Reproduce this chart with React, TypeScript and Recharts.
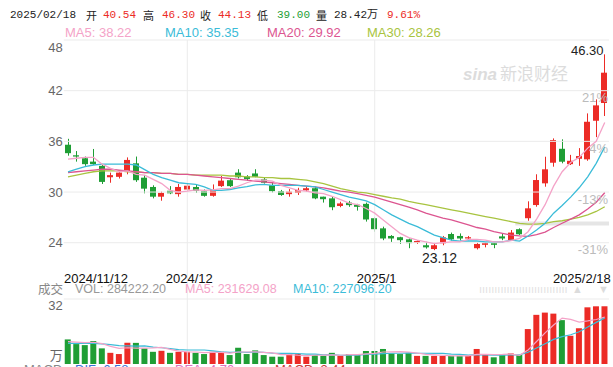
import React from 'react';
import {
  ComposedChart,
  Bar,
  Line,
  XAxis,
  YAxis,
  ReferenceLine,
  ReferenceArea,
  Cell,
} from 'recharts';

const dates = [
  '2024-11-12', '2024-11-13', '2024-11-14', '2024-11-15', '2024-11-18', '2024-11-19', '2024-11-20',
  '2024-11-21', '2024-11-22', '2024-11-25', '2024-11-26', '2024-11-27', '2024-11-28', '2024-11-29',
  '2024-12-02', '2024-12-03', '2024-12-04', '2024-12-05', '2024-12-06', '2024-12-09', '2024-12-10',
  '2024-12-11', '2024-12-12', '2024-12-13', '2024-12-16', '2024-12-17', '2024-12-18', '2024-12-19',
  '2024-12-20', '2024-12-23', '2024-12-24', '2024-12-25', '2024-12-26', '2024-12-27', '2024-12-30',
  '2024-12-31', '2025-01-02', '2025-01-03', '2025-01-06', '2025-01-07', '2025-01-08', '2025-01-09',
  '2025-01-10', '2025-01-13', '2025-01-14', '2025-01-15', '2025-01-16', '2025-01-17', '2025-01-20',
  '2025-01-21', '2025-01-22', '2025-01-23', '2025-01-24', '2025-01-27', '2025-02-05', '2025-02-06',
  '2025-02-07', '2025-02-10', '2025-02-11', '2025-02-12', '2025-02-13', '2025-02-14', '2025-02-17',
  '2025-02-18',
];

const opens = [
  35.6, 34.35, 34.0, 33.6, 33.1, 31.75, 31.8, 32.4, 33.4, 31.7,
  30.6, 29.45, 30.15, 29.75, 30.3, 30.6, 30.1, 29.55, 30.7, 31.4,
  32.3, 31.85, 32.2, 31.5, 30.8, 30.1, 29.75, 29.9, 30.2, 30.45,
  29.45, 29.25, 28.35, 28.75, 28.5, 28.6, 26.9, 25.7, 24.8, 24.65,
  24.4, 24.0, 23.7, 23.25, 23.93, 25.03, 24.8, 24.5, 23.35, 23.75,
  23.95, 24.75, 24.3, 25.6, 26.9, 28.46, 31.03, 33.47, 35.12, 33.3,
  33.94, 33.87, 38.44, 40.54,
];
const highs = [
  36.3, 34.85, 34.2, 35.1, 33.3, 32.3, 32.5, 34.1, 34.2, 32.0,
  30.8, 30.05, 30.7, 30.95, 31.0, 30.9, 30.3, 30.9, 31.9, 31.6,
  32.7, 32.0, 32.7, 31.75, 31.1, 30.25, 30.35, 30.5, 30.65, 30.65,
  29.45, 29.45, 28.85, 28.95, 28.6, 28.75, 27.0, 25.9, 24.9, 24.7,
  24.5, 24.3, 24.1, 24.0, 24.8, 25.2, 25.1, 24.8, 24.0, 24.0,
  24.0, 25.05, 25.5, 25.7, 28.9, 32.1, 34.18, 36.35, 36.24, 34.4,
  35.2, 39.31, 40.97, 46.3,
];
const lows = [
  34.3, 33.6, 33.1, 33.2, 30.95, 31.1, 31.6, 32.1, 31.2, 29.85,
  29.25, 28.97, 29.75, 29.45, 30.15, 29.9, 29.45, 29.45, 30.6, 30.6,
  31.6, 31.35, 31.75, 31.0, 29.95, 29.55, 29.45, 29.65, 30.05, 29.15,
  28.75, 27.85, 28.2, 28.25, 27.8, 26.5, 25.3, 24.3, 24.1, 23.85,
  23.35, 23.85, 23.3, 23.12, 23.7, 24.25, 24.3, 24.3, 23.2, 23.45,
  23.35, 24.3, 24.25, 24.9, 26.6, 28.26, 30.63, 33.0, 33.4, 33.2,
  33.1, 33.7, 36.5, 39.0,
];
const closes = [
  34.6, 34.2, 33.3, 33.3, 31.2, 32.0, 32.3, 33.8, 31.4, 30.4,
  29.45, 29.9, 29.85, 30.6, 30.75, 30.15, 29.55, 30.25, 31.35, 30.7,
  31.75, 31.55, 31.8, 31.1, 30.1, 29.65, 30.05, 30.25, 30.45, 29.25,
  29.15, 28.2, 28.65, 28.45, 28.25, 26.75, 25.6, 24.5, 24.5, 24.3,
  23.95, 24.2, 23.45, 23.7, 24.64, 24.4, 24.5, 24.65, 23.85, 23.95,
  23.75, 24.5, 25.2, 25.0, 28.07, 31.42, 32.69, 36.15, 33.59, 33.7,
  34.26, 38.32, 40.26, 44.13,
];

const ma5 = [
  33.9, 34.0, 34.1, 34.1, 33.3, 32.8, 32.4, 32.5, 32.1, 32.0,
  31.5, 31.0, 30.2, 30.0, 30.1, 30.25, 30.2, 30.25, 30.4, 30.4,
  30.7, 31.1, 31.4, 31.4, 31.3, 30.8, 30.5, 30.2, 30.1, 29.9,
  29.8, 29.5, 29.1, 28.7, 28.5, 28.05, 27.5, 26.7, 25.9, 25.1,
  24.6, 24.3, 24.1, 23.9, 24.0, 24.1, 24.1, 24.4, 24.4, 24.3,
  24.1, 24.1, 24.25, 24.5, 25.3, 26.8, 28.5, 30.7, 32.4, 33.5,
  34.1, 35.2, 36.0, 38.22,
];
const ma10 = [
  32.4, 32.7, 33.0, 33.2, 33.3, 33.3, 33.3, 33.3, 33.2, 32.65,
  32.1, 31.7, 31.4, 31.1, 31.0, 30.9, 30.6, 30.2, 30.2, 30.3,
  30.5, 30.65, 30.85, 30.9, 30.8, 30.8, 30.8, 30.8, 30.7, 30.6,
  30.3, 30.0, 29.7, 29.4, 29.2, 28.95, 28.5, 27.9, 27.3, 26.8,
  26.3, 25.9, 25.4, 24.9, 24.6, 24.3, 24.2, 24.2, 24.2, 24.1,
  24.1, 24.1, 24.3, 24.2, 24.8, 25.5, 26.3, 27.5, 28.4, 29.4,
  30.5, 31.8, 33.4, 35.35,
];
const ma20 = [
  32.3, 32.4, 32.5, 32.6, 32.7, 32.7, 32.6, 32.5, 32.4, 32.3,
  32.3, 32.2, 32.2, 32.1, 32.1, 32.0, 31.9, 31.8, 31.7, 31.6,
  31.5, 31.4, 31.3, 31.2, 31.1, 31.0, 30.9, 30.8, 30.7, 30.6,
  30.5, 30.3, 30.1, 30.0, 29.8, 29.6, 29.4, 29.1, 28.8, 28.5,
  28.2, 27.9, 27.5, 27.2, 26.9, 26.7, 26.4, 26.1, 25.8, 25.6,
  25.3, 25.1, 24.9, 24.8, 24.75, 24.95, 25.25, 25.8, 26.3, 26.8,
  27.3, 28.0, 28.8, 29.92,
];
const ma30 = [
  31.8, 32.0, 32.2, 32.4, 32.5, 32.5, 32.5, 32.4, 32.4, 32.3,
  32.3, 32.2, 32.2, 32.1, 32.1, 32.0, 32.0, 32.0, 32.0, 31.9,
  31.9, 31.8, 31.8, 31.7, 31.7, 31.6, 31.6, 31.5, 31.4, 31.2,
  31.0, 30.7, 30.4, 30.2, 30.0, 29.9, 29.7, 29.5, 29.3, 29.15,
  28.9, 28.7, 28.5, 28.3, 28.1, 27.9, 27.7, 27.5, 27.3, 27.1,
  26.9, 26.7, 26.5, 26.3, 26.2, 26.2, 26.3, 26.5, 26.6, 26.8,
  27.0, 27.3, 27.7, 28.26,
];

// volume in 万
const volumes = [
  12.1, 9.8, 9.3, 11.3, 7.7, 5.5, 4.9, 10.5, 10.4, 7.7,
  6.0, 6.5, 5.5, 6.0, 6.0, 5.5, 4.9, 6.0, 6.0, 4.4,
  8.0, 4.9, 6.7, 4.4, 3.6, 3.6, 4.9, 4.9, 3.6, 4.4,
  4.0, 5.5, 4.0, 4.9, 4.4, 6.4, 6.4, 7.4, 5.2, 4.9,
  5.5, 4.0, 4.0, 4.0, 4.0, 4.0, 4.0, 4.0, 7.4, 4.4,
  3.3, 4.4, 5.2, 4.4, 17.2, 24.2, 25.3, 24.8, 21.6, 13.9,
  17.6, 27.9, 28.4, 28.42,
];
const volMa5 = [
  11.0, 10.8, 10.5, 10.7, 10.0, 8.7, 7.7, 8.0, 7.8, 7.8,
  7.9, 8.2, 7.2, 6.3, 6.0, 5.9, 5.6, 5.7, 5.7, 5.4,
  5.9, 5.9, 6.0, 5.7, 5.5, 4.6, 4.6, 4.3, 4.1, 4.3,
  4.4, 4.5, 4.3, 4.6, 4.6, 5.0, 5.2, 5.9, 6.0, 6.1,
  5.9, 5.4, 4.7, 4.5, 4.3, 4.0, 4.0, 4.0, 4.7, 4.8,
  4.6, 4.7, 4.9, 4.3, 6.9, 11.1, 15.3, 19.2, 22.6, 22.0,
  20.6, 21.2, 21.9, 23.16,
];
const volMa10 = [
  10.2, 10.2, 10.1, 10.2, 9.9, 9.5, 9.0, 8.9, 8.8, 8.9,
  8.3, 8.0, 7.6, 7.1, 6.9, 6.9, 6.9, 6.45, 6.0, 5.7,
  5.9, 5.7, 5.8, 5.7, 5.4, 5.25, 5.25, 5.1, 4.9, 4.9,
  4.5, 4.6, 4.3, 4.3, 4.4, 4.7, 4.85, 5.1, 5.3, 5.3,
  5.5, 5.3, 5.3, 5.2, 5.2, 4.9, 4.7, 4.4, 4.6, 4.5,
  4.3, 4.35, 4.5, 4.5, 5.8, 7.85, 10.0, 12.1, 13.5, 14.4,
  15.9, 18.2, 20.5, 22.71,
];

const priceTicks = [48, 42, 36, 30, 24];
const pctTicks = [42, 36, 30, 24];
const pctLabels = ['21%', '4%', '-13%', '-31%'];
const volTicks = [32, 4];
const volTickLabels = ['32', '万'];
const dateTicks = ['2024-11-12', '2024-12-02', '2025-01-02', '2025-02-18'];
const dateTickLabels = ['2024/11/12', '2024/12', '2025/1', '2025/2/18'];
const gridDates = ['2024-12-02', '2025-01-02'];

const RED = '#ec2b26';
const GREEN = '#1f9e35';
const C_MA5 = '#f4a3c8';
const C_MA10 = '#3bbcd8';
const C_MA20 = '#dc5590';
const C_MA30 = '#a8c440';
const GRID = '#ebebeb';

const SANS = '"Liberation Sans", Arial, sans-serif';
const MONO = '"Liberation Mono", "Noto Sans CJK SC", monospace';
const CJK = '"Noto Sans CJK SC", sans-serif';

const data = dates.map((date, i) => ({
  date,
  open: opens[i],
  high: highs[i],
  low: lows[i],
  close: closes[i],
  ma5: ma5[i],
  ma10: ma10[i],
  ma20: ma20[i],
  ma30: ma30[i],
  vol: volumes[i],
  vma5: volMa5[i],
  vma10: volMa10[i],
}));

const maxHigh = Math.max(...highs);
const minLow = Math.min(...lows);

function Candle(props: any) {
  const { x, y, width, height, payload } = props;
  if (!payload) return null;
  const { open, close, high, low } = payload;
  const top = Math.min(y, y + height);
  const h = Math.abs(height);
  const k = h / (high - low);
  const py = (v: number) => top + (high - v) * k;
  const color = close >= open ? RED : GREEN;
  const cx = Math.round(x + width / 2) + 0.5;
  const bTop = py(Math.max(open, close));
  const bBot = py(Math.min(open, close));
  return (
    <g>
      <line x1={cx} x2={cx} y1={top} y2={top + h} stroke={color} strokeWidth={1} />
      <rect
        x={Math.round(x)}
        y={bTop}
        width={Math.round(width)}
        height={Math.max(1, bBot - bTop)}
        fill={color}
      />
      {high === maxHigh && (
        <text x={cx - 1} y={top + 1} textAnchor="end" fontSize={13} fontFamily={SANS} fill="#222">
          {high.toFixed(2)}
        </text>
      )}
      {low === minLow && (
        <text x={cx + 5} y={top + h + 13} textAnchor="middle" fontSize={14} fontFamily={SANS} fill="#222">
          {low.toFixed(2)}
        </text>
      )}
    </g>
  );
}

function PriceTick(props: any) {
  const { x, y, payload } = props;
  const shift = payload.value === priceTicks[0] ? 7 : 0;
  return (
    <text x={x} y={y + shift} dy="0.35em" textAnchor="end" fontSize={13} fontFamily={SANS} fill="#666">
      {payload.value}
    </text>
  );
}

function PctTick(props: any) {
  const { x, y, payload } = props;
  const i = pctTicks.indexOf(payload.value);
  return (
    <text x={x} y={y + 7} dy="0.35em" textAnchor="end" fontSize={13} fontFamily={SANS} fill="#bbb">
      {pctLabels[i]}
    </text>
  );
}

function VolTick(props: any) {
  const { x, y, payload } = props;
  const i = volTicks.indexOf(payload.value);
  return (
    <text
      x={x - 1}
      y={y + (i === 0 ? 6 : 0)}
      dy="0.35em"
      textAnchor="end"
      fontSize={13}
      fontFamily={i === 0 ? SANS : CJK}
      fill="#666"
    >
      {volTickLabels[i]}
    </text>
  );
}

const dateLabel = (i: number) => (props: any) => {
  const vb = props.viewBox || {};
  const anchor = i === 0 ? 'start' : i === dateTicks.length - 1 ? 'end' : 'middle';
  const dx = i === 0 ? -4 : i === dateTicks.length - 1 ? 6 : 2;
  return (
    <text x={vb.x + dx} y={vb.y + vb.height - 81} textAnchor={anchor} fontSize={13} fontFamily={SANS} fill="#111">
      {dateTickLabels[i]}
    </text>
  );
};

function Txt({ x, y, size = 13, color = '#333', font = SANS, children }: any) {
  return (
    <div
      style={{
        position: 'absolute',
        left: x,
        top: y - size / 2,
        fontSize: size,
        lineHeight: `${size}px`,
        color,
        fontFamily: font,
        whiteSpace: 'nowrap',
      }}
    >
      {children}
    </div>
  );
}

export default function App() {
  return (
    <div
      style={{
        position: 'absolute',
        left: 0,
        top: 0,
        width: 613,
        height: 367,
        overflow: 'hidden',
        background: '#fff',
      }}
    >
      {/* watermark */}
      <Txt x={463} y={72} size={17} color="#dcdcdc" font={SANS}>
        <span style={{ fontStyle: 'italic', fontWeight: 'bold' }}>sina</span>
        <span style={{ fontFamily: CJK, marginLeft: 3 }}>新浪财经</span>
      </Txt>

      <ComposedChart
        width={613}
        height={367}
        data={data}
        margin={{ top: 40, right: 4, bottom: 3, left: 0 }}
        style={{ position: 'absolute', left: 0, top: 0 }}
      >
        <XAxis xAxisId="p" dataKey="date" hide />
        <XAxis xAxisId="v" dataKey="date" hide />
        <YAxis
          yAxisId="price"
          domain={[9.64, 48]}
          ticks={priceTicks}
          width={63.74}
          tick={PriceTick}
          tickLine={false}
          axisLine={false}
          tickSize={0}
          tickMargin={1}
          allowDataOverflow
        />
        <YAxis
          yAxisId="pct"
          orientation="right"
          mirror
          domain={[9.64, 48]}
          ticks={pctTicks}
          tick={PctTick}
          tickLine={false}
          axisLine={false}
          tickSize={0}
          tickMargin={1}
          allowDataOverflow
        />
        <YAxis
          yAxisId="vol"
          orientation="left"
          mirror
          domain={[0, 159.5]}
          ticks={volTicks}
          tick={VolTick}
          tickLine={false}
          axisLine={false}
          tickSize={0}
          tickMargin={0}
          allowDataOverflow
        />

        {priceTicks.map((v) => (
          <ReferenceLine key={'h' + v} xAxisId="p" yAxisId="price" y={v} stroke={GRID} />
        ))}
        <ReferenceLine xAxisId="v" yAxisId="vol" y={volTicks[0]} stroke={GRID} />
        {gridDates.map((d) => (
          <ReferenceLine key={'v' + d} xAxisId="p" yAxisId="price" x={d} stroke={GRID} />
        ))}
        {dateTicks.map((d, i) => (
          <ReferenceLine
            key={'l' + d}
            xAxisId="p"
            yAxisId="price"
            x={d}
            stroke="#fff"
            strokeOpacity={0}
            label={dateLabel(i)}
          />
        ))}
        <ReferenceArea
          xAxisId="p"
          yAxisId="price"
          x1="2025-01-27"
          x2="2025-02-18"
          y1={26.05}
          y2={26.5}
          fill="#e2e2e2"
          fillOpacity={0.9}
          stroke="none"
        />

        <Bar
          xAxisId="p"
          yAxisId="price"
          dataKey={(d: any) => [d.low, d.high]}
          barSize={6}
          shape={Candle}
          isAnimationActive={false}
        />
        <Bar xAxisId="v" yAxisId="vol" dataKey="vol" barSize={6} isAnimationActive={false}>
          {data.map((d, i) => (
            <Cell key={i} fill={d.close >= d.open ? RED : GREEN} />
          ))}
        </Bar>

        <Line xAxisId="p" yAxisId="price" dataKey="ma30" stroke={C_MA30} strokeWidth={1.3} dot={false} activeDot={false} isAnimationActive={false} />
        <Line xAxisId="p" yAxisId="price" dataKey="ma20" stroke={C_MA20} strokeWidth={1.3} dot={false} activeDot={false} isAnimationActive={false} />
        <Line xAxisId="p" yAxisId="price" dataKey="ma10" stroke={C_MA10} strokeWidth={1.3} dot={false} activeDot={false} isAnimationActive={false} />
        <Line xAxisId="p" yAxisId="price" dataKey="ma5" stroke={C_MA5} strokeWidth={1.3} dot={false} activeDot={false} isAnimationActive={false} />
        <Line xAxisId="v" yAxisId="vol" dataKey="vma10" stroke={C_MA10} strokeWidth={1.2} dot={false} activeDot={false} isAnimationActive={false} />
        <Line xAxisId="v" yAxisId="vol" dataKey="vma5" stroke={C_MA5} strokeWidth={1.2} dot={false} activeDot={false} isAnimationActive={false} />
      </ComposedChart>

      {/* quote header */}
      <Txt x={10} y={15} size={11} font={MONO} color="#222">2025/02/18</Txt>
      <Txt x={86} y={15} size={11} font={CJK} color="#222">开</Txt>
      <Txt x={103} y={15} size={11} font={MONO} color={RED}>40.54</Txt>
      <Txt x={143} y={15} size={11} font={CJK} color="#222">高</Txt>
      <Txt x={162} y={15} size={11} font={MONO} color={RED}>46.30</Txt>
      <Txt x={200} y={15} size={11} font={CJK} color="#222">收</Txt>
      <Txt x={218} y={15} size={11} font={MONO} color={RED}>44.13</Txt>
      <Txt x={257} y={15} size={11} font={CJK} color="#222">低</Txt>
      <Txt x={277} y={15} size={11} font={MONO} color={GREEN}>39.00</Txt>
      <Txt x={316} y={15} size={11} font={CJK} color="#222">量</Txt>
      <Txt x={334} y={15} size={11} font={MONO} color="#222">28.42万</Txt>
      <Txt x={387} y={15} size={11} font={MONO} color={RED}>9.61%</Txt>

      <Txt x={65} y={32} size={13} color={C_MA5}>MA5: 38.22</Txt>
      <Txt x={165} y={32} size={13} color={C_MA10}>MA10: 35.35</Txt>
      <Txt x={267} y={32} size={13} color={C_MA20}>MA20: 29.92</Txt>
      <Txt x={367} y={32} size={13} color={C_MA30}>MA30: 28.26</Txt>

      {/* volume header */}
      <Txt x={38} y={289} size={12.5} font={CJK} color="#888">成交</Txt>
      <Txt x={75} y={289} size={12.5} color="#999">VOL: 284222.20</Txt>
      <Txt x={185} y={289} size={12.5} color={C_MA5}>MA5: 231629.08</Txt>
      <Txt x={293} y={289} size={12.5} color={C_MA10}>MA10: 227096.20</Txt>
      <Txt x={479} y={289} size={11} color="#e2e2e2">ııııııııııııııııııııııııııııı</Txt>
      <Txt x={572} y={289} size={11} color="#dcdcdc">▲</Txt>
      <Txt x={598} y={289} size={11} color="#dcdcdc">▼</Txt>

      {/* MACD header, mostly cut off at the bottom edge like the reference */}
      <Txt x={24} y={369} size={13} color="#888">MACD</Txt>
      <Txt x={75} y={369} size={13} color="#3a6fd8">DIF: 6.58</Txt>
      <Txt x={175} y={369} size={13} color="#e070c0">DEA: 4.70</Txt>
      <Txt x={275} y={369} size={13} color="#c83838">MACD: 3.44</Txt>
    </div>
  );
}
